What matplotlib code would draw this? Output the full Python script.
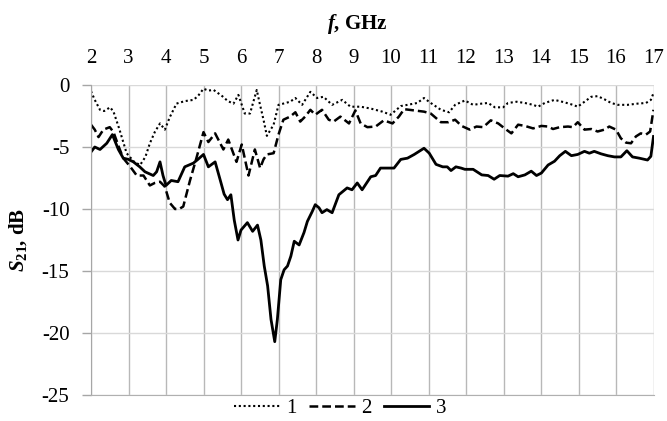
import matplotlib
matplotlib.use("Agg")
import matplotlib.pyplot as plt
from matplotlib.lines import Line2D

plt.rcParams['font.family'] = ['Liberation Serif', 'DejaVu Serif']
plt.rcParams['mathtext.fontset'] = 'custom'
plt.rcParams['mathtext.rm'] = 'Liberation Serif'
plt.rcParams['mathtext.it'] = 'Liberation Serif:italic'
plt.rcParams['mathtext.bf'] = 'Liberation Serif:bold'
plt.rcParams['mathtext.bfit'] = 'Liberation Serif:bold:italic'

# ---- data ----
f1 = [2.0, 2.1, 2.24, 2.35, 2.51, 2.6, 2.75, 2.95, 3.15, 3.31, 3.45, 3.57, 3.7, 3.84, 3.97,
      4.1, 4.28, 4.5, 4.73, 4.85, 5.0, 5.13, 5.27, 5.5, 5.65, 5.8, 5.93, 6.1, 6.24, 6.42,
      6.5, 6.6, 6.69, 6.87, 7.0, 7.13, 7.31, 7.45, 7.63, 7.85, 8.03, 8.2, 8.43, 8.7, 8.92,
      9.19, 9.46, 9.77, 9.99, 10.26, 10.44, 10.7, 10.88, 11.06, 11.33, 11.55, 11.71, 11.97,
      12.19, 12.42, 12.59, 12.77, 12.99, 13.12, 13.35, 13.57, 13.79, 13.92, 14.1, 14.36,
      14.63, 14.85, 14.98, 15.16, 15.34, 15.51, 15.69, 15.87, 16.05, 16.31, 16.58, 16.8,
      16.93, 17.0]
s1 = [-0.5, -1.2, -2.0, -2.1, -1.8, -2.15, -3.5, -5.5, -6.2, -6.45, -5.8, -4.7, -3.8, -3.1, -3.6,
      -2.6, -1.5, -1.3, -1.2, -0.9, -0.3, -0.45, -0.4, -0.9, -1.3, -1.5, -0.8, -2.3, -2.3, -0.4,
      -1.5, -2.8, -4.1, -3.2, -1.6, -1.5, -1.35, -1.05, -1.6, -0.55, -1.05, -0.95, -1.6, -1.2, -1.75,
      -1.75, -1.9, -2.15, -2.4, -1.7, -1.6, -1.45, -1.05, -1.45, -2.0, -2.2, -1.6, -1.25,
      -1.6, -1.5, -1.45, -1.8, -1.8, -1.45, -1.35, -1.45, -1.6, -1.75, -1.45, -1.2,
      -1.4, -1.6, -1.75, -1.35, -0.95, -0.9, -1.15, -1.45, -1.6, -1.6, -1.5, -1.45,
      -1.2, -0.65]

f2 = [2.0, 2.1, 2.2, 2.33, 2.5, 2.6, 2.73, 2.86, 3.05, 3.22, 3.4, 3.57, 3.7, 3.84, 3.97, 4.1,
      4.24, 4.35, 4.46, 4.64, 4.82, 5.0, 5.13, 5.31, 5.53, 5.66, 5.88, 6.02, 6.2, 6.37, 6.51,
      6.6, 6.69, 6.87, 7.0, 7.13, 7.31, 7.45, 7.58, 7.71, 7.85, 7.98, 8.16, 8.34, 8.47, 8.65,
      8.88, 9.05, 9.19, 9.37, 9.59, 9.81, 10.04, 10.21, 10.35, 10.62, 10.88, 11.06, 11.33,
      11.53, 11.71, 11.88, 12.1, 12.28, 12.46, 12.66, 12.86, 13.03, 13.21, 13.39, 13.57, 13.79,
      14.01, 14.19, 14.32, 14.5, 14.72, 14.85, 14.98, 15.16, 15.34, 15.51, 15.69, 15.82, 16.0,
      16.13, 16.27, 16.4, 16.53, 16.66, 16.8, 16.91, 17.0]
s2 = [-3.2, -3.6, -4.2, -3.6, -3.4, -3.8, -4.9, -5.9, -6.6, -7.3, -7.3, -8.1, -7.9, -7.8, -8.2, -9.5,
      -10.0, -10.0, -9.8, -7.7, -5.8, -3.8, -4.6, -3.9, -5.2, -4.4, -6.2, -4.8, -7.3, -5.2, -6.7,
      -6.0, -5.6, -5.5, -4.0, -2.8, -2.55, -2.2, -2.95, -2.55, -2.0, -2.4, -2.0, -2.8, -2.95, -2.55,
      -3.1, -2.05, -3.1, -3.4, -3.35, -2.85, -3.1, -2.55, -1.95, -2.05, -2.15, -2.3, -3.0,
      -3.0, -2.8, -3.3, -3.6, -3.35, -3.4, -2.85, -3.1, -3.5, -3.9, -3.2, -3.3, -3.5,
      -3.3, -3.35, -3.55, -3.4, -3.35, -3.4, -3.0, -3.6, -3.55, -3.75, -3.6, -3.35, -3.6,
      -4.3, -4.65, -4.7, -4.15, -3.9, -4.0, -3.75, -2.0]

f3 = [2.0, 2.1, 2.24, 2.42, 2.57, 2.73, 2.86, 3.0, 3.13, 3.3, 3.44, 3.66, 3.75, 3.84, 3.92, 4.0,
      4.14, 4.32, 4.5, 4.73, 4.85, 5.0, 5.13, 5.31, 5.44, 5.55, 5.64, 5.73, 5.82, 5.92, 6.0,
      6.17, 6.31, 6.44, 6.53, 6.62, 6.71, 6.8, 6.9, 6.97, 7.06, 7.15, 7.24, 7.33, 7.42, 7.55,
      7.68, 7.77, 7.9, 7.98, 8.08, 8.16, 8.29, 8.43, 8.61, 8.83, 8.96, 9.1, 9.23, 9.46, 9.59,
      9.72, 9.95, 10.08, 10.26, 10.44, 10.62, 10.88, 11.02, 11.2, 11.38, 11.5, 11.6, 11.73,
      11.87, 11.97, 12.19, 12.42, 12.59, 12.75, 12.9, 13.12, 13.26, 13.39, 13.57, 13.74, 13.88,
      14.01, 14.19, 14.36, 14.5, 14.65, 14.81, 14.98, 15.16, 15.29, 15.42, 15.6, 15.78, 15.96,
      16.13, 16.29, 16.44, 16.62, 16.84, 16.93, 17.0]
s3 = [-5.4, -5.0, -5.2, -4.7, -4.0, -5.2, -5.9, -6.0, -6.2, -6.6, -7.0, -7.3, -7.0, -6.2, -7.3, -8.1,
      -7.7, -7.8, -6.6, -6.3, -6.0, -5.6, -6.6, -6.2, -7.6, -8.8, -9.25, -8.85, -10.9, -12.5, -11.7,
      -11.1, -11.8, -11.3, -12.5, -14.6, -16.2, -18.9, -20.7, -18.9, -15.7, -14.9, -14.6, -13.8, -12.6, -12.9,
      -11.9, -11.0, -10.2, -9.65, -9.9, -10.3, -10.05, -10.3, -8.85, -8.3, -8.45, -7.9, -8.45, -7.4, -7.3,
      -6.7, -6.7, -6.7, -6.0, -5.9, -5.6, -5.1, -5.5, -6.4, -6.6, -6.6, -6.9, -6.6,
      -6.7, -6.8, -6.8, -7.25, -7.3, -7.6, -7.3, -7.35, -7.15, -7.4, -7.25, -6.95, -7.3,
      -7.1, -6.45, -6.15, -5.7, -5.35, -5.7, -5.6, -5.35, -5.5, -5.35, -5.55, -5.7, -5.8,
      -5.8, -5.3, -5.8, -5.9, -6.05, -5.75, -4.15]

series_labels = ['1', '2', '3']
x_ticks = list(range(2, 18))
y_ticks = [0, -5, -10, -15, -20, -25]

# ---- figure ----
fig = plt.figure(figsize=(6.67, 4.21), dpi=100)
ax = fig.add_axes([91/667, 1-395/421, (653.5-91)/667, (395-85)/421])

ls1 = (0, (1, 1.3))
ls2 = (0, (3.5, 1.6))
ax.plot(f1, s1, color='black', lw=1.5, linestyle=ls1, label=series_labels[0])
ax.plot(f2, s2, color='black', lw=1.8, linestyle=ls2, label=series_labels[1])
ax.plot(f3, s3, color='black', lw=2.0, linestyle='-', label=series_labels[2])

ax.set_xlim(2, 17)
ax.set_ylim(-25, 0)
ax.set_xticks(x_ticks)
ax.set_xticklabels([str(t) for t in x_ticks])
ax.set_yticks(y_ticks)
ax.set_yticklabels([str(t) for t in y_ticks])

ax.xaxis.tick_top()
ax.tick_params(axis='x', length=0, pad=12, labelsize=15)
ax.tick_params(axis='y', length=6.5, width=1, color='#a6a6a6', pad=9, labelsize=15)

for x in x_ticks:
    ax.axvline(x, color='#b8b8b8', lw=1, zorder=0)
for y in y_ticks:
    ax.axhline(y, color='#d9d9d9', lw=1, zorder=0)

for s in ['top', 'right']:
    ax.spines[s].set_visible(False)
ax.spines['left'].set_color('#a6a6a6')
ax.spines['bottom'].set_color('#b0b0b0')

fig.text(357/667, 1-24/421, r'$\mathbfit{f}$, GHz', ha='center', va='center',
         fontsize=15, fontweight='bold')
fig.text(18/667, 1-240/421, r'$\mathbfit{S}_{\mathbf{21}}$, dB', ha='center', va='center',
         rotation=90, fontsize=15, fontweight='bold')

handles = [Line2D([], [], color='black', lw=1.5, linestyle=ls1),
           Line2D([], [], color='black', lw=1.8, linestyle=ls2),
           Line2D([], [], color='black', lw=2.0, linestyle='-')]
fig.legend(handles, series_labels, loc='center', bbox_to_anchor=(340/667, 1-408/421),
           ncol=3, frameon=False, fontsize=15, handlelength=2.2, handletextpad=0.3,
           columnspacing=0.6, borderpad=0)

fig.savefig('out.png', dpi=100)
